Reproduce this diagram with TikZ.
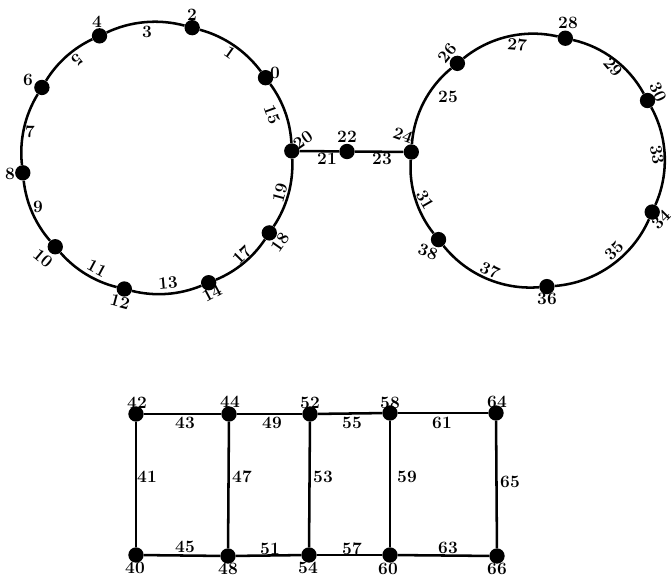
\documentclass[tikz,border=0pt]{standalone}
\usepackage{fontspec}
\begin{document}
\begin{tikzpicture}[x=0.75pt,y=0.75pt,
  vtx/.style={circle,fill=black,draw=none,minimum size=11.5pt,inner sep=0pt},
  edge/.style={line width=1.9pt,black},
  lab/.style={font=\fontsize{13}{15}\bfseries\selectfont,inner sep=0pt}]
\useasboundingbox (0,0) rectangle (671,576);
\newcommand\arcedge[4]{%
  \pgfmathsetmacro\myhb{(#4-#3)/2}%
  \pgfmathsetmacro\mylo{(2/3)*tan((#4-#3)/4)/sin((#4-#3)/2)/0.3915}%
  \draw[edge] (#1) to[bend right=\myhb, looseness=\mylo] (#2);}
\coordinate (cL) at (157,418);
\coordinate (cR) at (537,415);
% left cycle
\node[vtx] (n0) at ([shift={(36.5:135)}]cL) {};
\node[vtx] (n2) at ([shift={(74.9:135)}]cL) {};
\node[vtx] (n4) at ([shift={(115.2:135)}]cL) {};
\node[vtx] (n6) at ([shift={(148.5:135)}]cL) {};
\node[vtx] (n8) at ([shift={(186.3:135)}]cL) {};
\node[vtx] (n10) at ([shift={(221.1:135)}]cL) {};
\node[vtx] (n12) at ([shift={(256:135)}]cL) {};
\node[vtx] (n14) at ([shift={(292.5:135)}]cL) {};
\node[vtx] (n18) at ([shift={(326.3:135)}]cL) {};
\node[vtx] (n20) at ([shift={(3:135)}]cL) {};
% right cycle
\node[vtx] (n24) at ([shift={(175.9:126)}]cR) {};
\node[vtx] (n26) at ([shift={(129.2:126)}]cR) {};
\node[vtx] (n28) at ([shift={(77:126)}]cR) {};
\node[vtx] (n30) at ([shift={(28.7:126)}]cR) {};
\node[vtx] (n34) at ([shift={(336.1:126)}]cR) {};
\node[vtx] (n36) at ([shift={(274.5:126)}]cR) {};
\node[vtx] (n38) at ([shift={(218.6:126)}]cR) {};
\node[vtx] (n22) at (347,424.5) {};
% ladder
\node[vtx] (n42) at (136,162) {};
\node[vtx] (n44) at (229,162) {};
\node[vtx] (n52) at (310,162) {};
\node[vtx] (n58) at (390,163) {};
\node[vtx] (n64) at (496,163) {};
\node[vtx] (n40) at (136,21) {};
\node[vtx] (n48) at (228,20) {};
\node[vtx] (n54) at (309,21) {};
\node[vtx] (n60) at (390,21) {};
\node[vtx] (n66) at (497,20) {};
% arc edges
\arcedge{n20}{n0}{3}{36.5}
\arcedge{n0}{n2}{36.5}{74.9}
\arcedge{n2}{n4}{74.9}{115.2}
\arcedge{n4}{n6}{115.2}{148.5}
\arcedge{n6}{n8}{148.5}{186.3}
\arcedge{n8}{n10}{186.3}{221.1}
\arcedge{n10}{n12}{221.1}{256}
\arcedge{n12}{n14}{256}{292.5}
\arcedge{n14}{n18}{292.5}{326.3}
\arcedge{n18}{n20}{326.3}{363}
\arcedge{n26}{n24}{129.2}{175.9}
\arcedge{n24}{n38}{175.9}{218.6}
\arcedge{n38}{n36}{218.6}{274.5}
\arcedge{n36}{n34}{274.5}{336.1}
\arcedge{n34}{n30}{336.1}{388.7}
\arcedge{n30}{n28}{28.7}{77}
\arcedge{n28}{n26}{77}{129.2}
% straight edges
\draw[edge] (n20) -- (n22);
\draw[edge] (n22) -- (n24);
\draw[edge] (n40) -- (n42);
\draw[edge] (n42) -- (n44);
\draw[edge] (n40) -- (n48);
\draw[edge] (n44) -- (n48);
\draw[edge] (n44) -- (n52);
\draw[edge] (n48) -- (n54);
\draw[edge] (n52) -- (n54);
\draw[edge] (n52) -- (n58);
\draw[edge] (n54) -- (n60);
\draw[edge] (n58) -- (n60);
\draw[edge] (n58) -- (n64);
\draw[edge] (n60) -- (n66);
\draw[edge] (n64) -- (n66);
% vertex labels (left)
\node[lab] (t0) at (275,503) {0};
\node[lab] (t2) at (192,561) {2};
\node[lab] (t4) at (97,554) {4};
\node[lab] (t6) at (28,496) {6};
\node[lab] (t8) at (10,402) {8};
\node[lab,rotate=-40] (t10) at (43,318) {10};
\node[lab,rotate=-15] (t12) at (120,274) {12};
\node[lab,rotate=28] (t14) at (212,283) {14};
\node[lab,rotate=55] (t18) at (280,334) {18};
\node[lab,rotate=35] (t20) at (303,436) {20};
% edge labels (left)
\node[lab,rotate=-35] (e1) at (230,523) {1};
\node[lab] (e3) at (147,544) {3};
\node[lab,rotate=-140] (e5) at (77,516) {5};
\node[lab] (e7) at (30,444) {7};
\node[lab] (e9) at (38,369) {9};
\node[lab,rotate=-28] (e11) at (97,308) {11};
\node[lab,rotate=5] (e13) at (168,293) {13};
\node[lab,rotate=45] (e17) at (242,321) {17};
\node[lab,rotate=75] (e19) at (280,383) {19};
\node[lab,rotate=-70] (e15) at (272,461) {15};
% right labels
\node[lab] (t22) at (347,439) {22};
\node[lab,rotate=-20] (t24) at (403,441) {24};
\node[lab,rotate=50] (t26) at (447,523) {26};
\node[lab] (t28) at (568,553) {28};
\node[lab,rotate=-65] (t30) at (658,484) {30};
\node[lab,rotate=45] (t34) at (661,356) {34};
\node[lab] (t36) at (547,277) {36};
\node[lab,rotate=-20] (t38) at (428,324) {38};
\node[lab] (e21) at (327,417) {21};
\node[lab] (e23) at (382,417) {23};
\node[lab] (e25) at (448,479) {25};
\node[lab,rotate=-5] (e27) at (517,531) {27};
\node[lab,rotate=-50] (e29) at (613,509) {29};
\node[lab,rotate=-80] (e33) at (657,421) {33};
\node[lab,rotate=45] (e35) at (614,325) {35};
\node[lab,rotate=-25] (e37) at (490,306) {37};
\node[lab,rotate=-60] (e31) at (425,376) {31};
% ladder labels
\node[lab] (t42) at (137,173) {42};
\node[lab] (t44) at (230,174) {44};
\node[lab] (t52) at (310,173) {52};
\node[lab] (t58) at (390,173) {58};
\node[lab] (t64) at (497,174) {64};
\node[lab] (t40) at (135,8) {40};
\node[lab] (t48) at (228,7) {48};
\node[lab] (t54) at (308,8) {54};
\node[lab] (t60) at (388,7) {60};
\node[lab] (t66) at (497,7) {66};
\node[lab] (e43) at (185,153) {43};
\node[lab] (e49) at (272,153) {49};
\node[lab] (e55) at (352,153) {55};
\node[lab] (e61) at (442,153) {61};
\node[lab] (e41) at (147,99) {41};
\node[lab] (e47) at (242,99) {47};
\node[lab] (e53) at (323,99) {53};
\node[lab] (e59) at (407,99) {59};
\node[lab] (e65) at (510,94) {65};
\node[lab] (e45) at (185,29) {45};
\node[lab] (e51) at (270,27) {51};
\node[lab] (e57) at (352,27) {57};
\node[lab] (e63) at (448,28) {63};
\end{tikzpicture}
\end{document}
